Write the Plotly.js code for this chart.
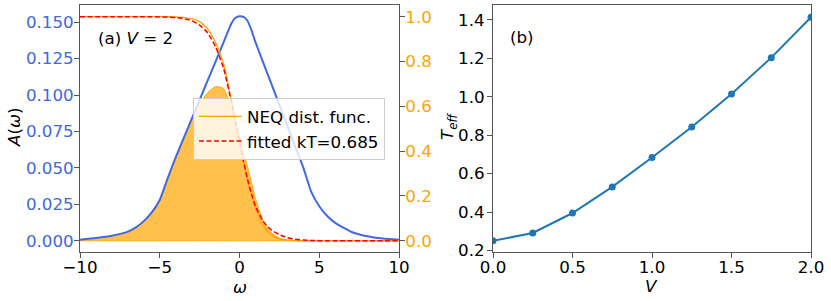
<!DOCTYPE html>
<html>
<head>
<meta charset="utf-8">
<script src="https://cdn.plot.ly/plotly-3.0.1.min.js"></script>
<style>html,body{margin:0;padding:0;background:#fff;}#chart{width:831px;height:301px;}</style>
</head>
<body>
<div id="chart"></div>
<script>
// ---- data ----
const omega = [-10,-9,-8,-7,-6.5,-6,-5.5,-5,-4.5,-4,-3.5,-3,-2.5,-2,-1.5,-1,-0.5,-0.25,0,0.25,0.5,0.75,1,1.5,2,2.5,3,3.5,4,4.5,5,5.5,6,7,8,9,10];
const spectralA = [0.0007,0.0019,0.0035,0.0063,0.0092,0.0135,0.0195,0.0280,0.0430,0.0573,0.0704,0.0836,0.0967,0.1099,0.1230,0.1362,0.1493,0.1530,0.1541,0.1536,0.1510,0.1445,0.1363,0.1219,0.1076,0.0932,0.0789,0.0645,0.0502,0.0335,0.0237,0.0170,0.0123,0.0062,0.0031,0.0015,0.0007];
const occupiedA = [0.0007,0.0019,0.0035,0.0063,0.0092,0.0135,0.0195,0.0279,0.0429,0.0571,0.0700,0.0826,0.0945,0.1015,0.1058,0.1045,0.0905,0.0815,0.0725,0.0615,0.0510,0.0400,0.0290,0.0135,0.0055,0.0018,0.0005,0.0001,0,0,0,0,0,0,0,0,0];
const neqDist = [1,1,1,1,1,1,1,1,1,0.999,0.997,0.991,0.978,0.945,0.885,0.79,0.625,0.535,0.44,0.355,0.272,0.205,0.146,0.065,0.026,0.009,0.003,0.001,0,0,0,0,0,0,0,0,0];
const fittedDist = [1,1,1,1,1,1,1,0.999,0.998,0.996,0.991,0.982,0.962,0.928,0.865,0.77,0.615,0.53,0.44,0.355,0.275,0.21,0.155,0.085,0.048,0.027,0.014,0.007,0.003,0.0015,0.0007,0.0003,0.0001,0,0,0,0];

const voltage = [0,0.25,0.5,0.75,1.0,1.25,1.5,1.75,2.0];
const tEff = [0.25,0.291,0.395,0.531,0.684,0.843,1.015,1.204,1.414];

const leftYTicks = [0,0.025,0.05,0.075,0.1,0.125,0.15];
const leftYLabels = ['0.000','0.025','0.050','0.075','0.100','0.125','0.150'];
const rightYTicks = [0,0.2,0.4,0.6,0.8,1.0];
const rightYLabels = ['0.0','0.2','0.4','0.6','0.8','1.0'];
const omegaTicks = [-10,-5,0,5,10];
const omegaLabels = ['\u221210','\u22125','0','5','10'];
const vTicks = [0,0.5,1,1.5,2];
const vLabels = ['0.0','0.5','1.0','1.5','2.0'];
const tTicks = [0.2,0.4,0.6,0.8,1.0,1.2,1.4];
const tLabels = ['0.2','0.4','0.6','0.8','1.0','1.2','1.4'];

// ---- build traces ----
const fillX = omega.concat(omega.slice().reverse());
const fillY = occupiedA.concat(omega.map(() => 0));

const BLUE = '#4169E1', ORANGE = '#FFA500', SPINE = '#555';
const FONT = 'DejaVu Sans, sans-serif';

const traces = [
  {x: fillX, y: fillY, xaxis: 'x', yaxis: 'y', mode: 'lines', fill: 'toself',
   fillcolor: 'rgba(255,165,0,0.7)', line: {color: 'rgba(255,165,0,0.9)', width: 1, shape: 'spline', smoothing: 0.5},
   showlegend: false, hoverinfo: 'skip'},
  {x: omega, y: spectralA, xaxis: 'x', yaxis: 'y', mode: 'lines',
   line: {color: BLUE, width: 2, shape: 'spline', smoothing: 0.5}, showlegend: false},
  {x: omega, y: neqDist, xaxis: 'x', yaxis: 'y2', mode: 'lines', name: 'NEQ dist. func.',
   line: {color: ORANGE, width: 1.3, shape: 'spline', smoothing: 0.6}},
  {x: omega, y: fittedDist, xaxis: 'x', yaxis: 'y2', mode: 'lines', name: 'fitted kT=0.685',
   line: {color: 'red', width: 1.5, dash: '5px,2.5px', shape: 'spline', smoothing: 0.6}},
  {x: voltage, y: tEff, xaxis: 'x3', yaxis: 'y3', mode: 'lines+markers', showlegend: false,
   line: {color: '#1f77b4', width: 2}, marker: {color: '#1f77b4', size: 7}}
];

const tickFont = {family: FONT, size: 16.7, color: '#000'};
const axCommon = {showgrid: false, zeroline: false, showline: true, linecolor: SPINE, linewidth: 1,
  ticks: 'outside', ticklen: 5, tickwidth: 1, tickcolor: SPINE, tickfont: tickFont, automargin: false};
const titleFont = {family: FONT, size: 16.7, color: '#000'};

const layout = {
  width: 831, height: 301,
  margin: {l: 0, r: 0, t: 0, b: 0},
  paper_bgcolor: '#fff', plot_bgcolor: '#fff',
  font: {family: FONT, size: 16.7, color: '#000'},
  xaxis: Object.assign({}, axCommon, {domain: [80/831, 399/831], range: [-10, 10], anchor: 'y',
    mirror: true, tickmode: 'array', tickvals: omegaTicks, ticktext: omegaLabels, ticklabelstandoff: -5}),
  yaxis: Object.assign({}, axCommon, {domain: [1-252/301, 1-5/301], range: [-0.0077, 0.1618], anchor: 'x',
    tickmode: 'array', tickvals: leftYTicks, ticktext: leftYLabels, ticklabelstandoff: -3,
    tickfont: {family: FONT, size: 16.7, color: BLUE}}),
  yaxis2: Object.assign({}, axCommon, {overlaying: 'y', side: 'right', anchor: 'x', range: [-0.05, 1.052],
    tickmode: 'array', tickvals: rightYTicks, ticktext: rightYLabels, ticklabelstandoff: -3,
    tickfont: {family: FONT, size: 16.7, color: ORANGE}}),
  xaxis3: Object.assign({}, axCommon, {domain: [493/831, 811/831], range: [0, 2], anchor: 'y3',
    mirror: true, tickmode: 'array', tickvals: vTicks, ticktext: vLabels, ticklabelstandoff: -5}),
  yaxis3: Object.assign({}, axCommon, {domain: [1-252/301, 1-5/301], range: [0.192, 1.478], anchor: 'x3',
    mirror: true, tickmode: 'array', tickvals: tTicks, ticktext: tLabels, ticklabelstandoff: -1}),
  legend: {x: 193/831, y: 1-98/301, xanchor: 'left', yanchor: 'top', itemwidth: 43,
    bgcolor: 'rgba(255,255,255,0.8)', bordercolor: '#ccc', borderwidth: 1,
    font: {family: FONT, size: 16.7, color: '#000'}},
  annotations: [
    {text: '(a) <i>V</i> = 2', xref: 'paper', yref: 'paper', x: 96/831, y: 1-38/301, xanchor: 'left', yanchor: 'middle',
     showarrow: false, font: titleFont},
    {text: '(b)', xref: 'paper', yref: 'paper', x: 508/831, y: 1-37/301, xanchor: 'left', yanchor: 'middle',
     showarrow: false, font: titleFont},
    // axis titles
    {text: '<i>ω</i>', xref: 'paper', yref: 'paper', x: 239.5/831, y: 1-287/301, xanchor: 'center', yanchor: 'middle',
     showarrow: false, font: titleFont},
    {text: '<i>A</i>(<i>ω</i>)', xref: 'paper', yref: 'paper', x: 14/831, y: 1-127/301, xanchor: 'center', yanchor: 'middle',
     textangle: -90, showarrow: false, font: titleFont},
    {text: '<i>V</i>', xref: 'paper', yref: 'paper', x: 651/831, y: 1-286/301, xanchor: 'center', yanchor: 'middle',
     showarrow: false, font: titleFont},
    {text: '<i>T<sub>eff</sub></i>', xref: 'paper', yref: 'paper', x: 448/831, y: 1-126/301, xanchor: 'center', yanchor: 'middle',
     textangle: -90, showarrow: false, font: titleFont}
  ]
};

Plotly.newPlot('chart', traces, layout, {staticPlot: true, displayModeBar: false});
</script>
</body>
</html>
